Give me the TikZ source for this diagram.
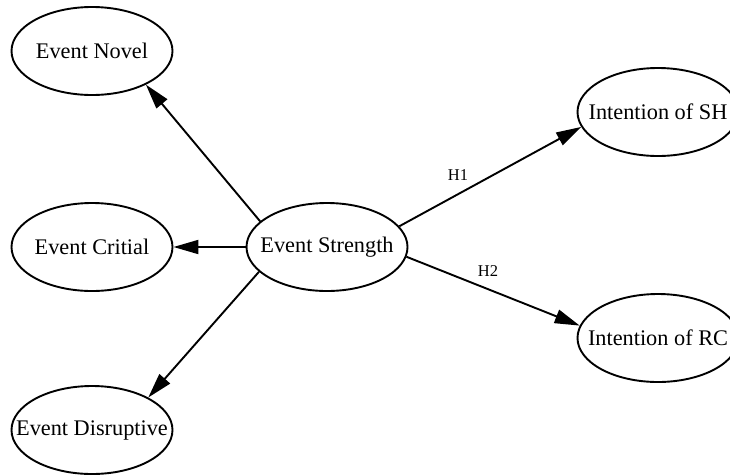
\documentclass[tikz,border=0pt]{standalone}
\usepackage{fontspec}
\setmainfont{Liberation Serif}
\usetikzlibrary{shapes.geometric,arrows.meta}
\begin{document}
\begin{tikzpicture}[x=1pt,y=-1pt,
  construct/.style={draw, ellipse, line width=1.9pt, minimum width=161pt, minimum height=88pt, inner sep=0pt,
    font=\fontsize{22.3}{24}\selectfont},
  link/.style={line width=1.9pt, -{Triangle[length=25pt,width=14pt]}},
  hyp/.style={font=\fontsize{16.5}{18}\selectfont}]
\useasboundingbox (0,0) rectangle (730,474);
\node[construct] (en) at (92,51) {\makebox[0pt]{Event Novel}};
\node[construct] (ec) at (92,247) {\makebox[0pt]{Event Critial}};
\node[construct] (ed) at (92,430) {\makebox[0pt]{Event Disruptive}};
\node[construct] (es) at (327,247) {\makebox[0pt]{Event Strength}};
\node[construct] (sh) at (658,112) {\makebox[0pt]{Intention of SH}};
\node[construct] (rc) at (658,338) {\makebox[0pt]{Intention of RC}};
\draw[link] (es.159) -- (en.-32);
\draw[link] (es.west) -- (ec.east);
\draw[link] (es.-160) -- (ed.30);
\draw[link] (es.16) -- (sh.191);
\draw[link] (es.-7) -- (rc.171);
\node[hyp] (h1) at (458,175) {H1};
\node[hyp] (h2) at (488,271) {H2};
\end{tikzpicture}
\end{document}
